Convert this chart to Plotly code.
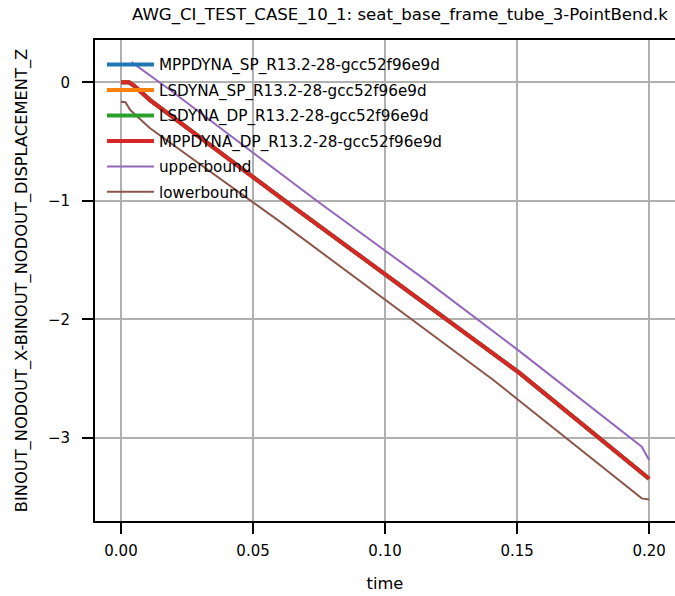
import plotly.graph_objects as go

title = "AWG_CI_TEST_CASE_10_1: seat_base_frame_tube_3-PointBend.k"
x_label = "time"
y_label = "BINOUT_NODOUT_X-BINOUT_NODOUT_DISPLACEMENT_Z"

sim_names = [
    "MPPDYNA_SP_R13.2-28-gcc52f96e9d",
    "LSDYNA_SP_R13.2-28-gcc52f96e9d",
    "LSDYNA_DP_R13.2-28-gcc52f96e9d",
    "MPPDYNA_DP_R13.2-28-gcc52f96e9d",
]
sim_colors = ["#1f77b4", "#ff7f0e", "#2ca02c", "#d62728"]

sim_t = [0.0, 0.003, 0.005, 0.011, 0.0621, 0.1227, 0.1511, 0.2]
sim_v = [0.0, 0.0, -0.03, -0.15, -1.0, -1.99, -2.456, -3.345]

upper_t = [0.004, 0.0186, 0.0741, 0.1152, 0.1511, 0.1972, 0.2]
upper_v = [0.17, -0.065, -1.0, -1.667, -2.273, -3.075, -3.187]

lower_t = [0.0, 0.0017, 0.0035, 0.011, 0.0602, 0.141, 0.1972, 0.2]
lower_v = [-0.164, -0.168, -0.234, -0.388, -1.176, -2.512, -3.511, -3.52]

x_ticks = [0.0, 0.05, 0.10, 0.15, 0.20]
y_ticks = [0, -1, -2, -3]

fig = go.Figure()
for i, (name, color) in enumerate(zip(sim_names, sim_colors)):
    fig.add_trace(go.Scatter(x=sim_t, y=sim_v, mode="lines", name=name,
                             line=dict(color=color, width=4), legendgroup=f"g{i}"))
fig.add_trace(go.Scatter(x=upper_t, y=upper_v, mode="lines", name="upperbound",
                         line=dict(color="#9467bd", width=2), legendgroup="g4"))
fig.add_trace(go.Scatter(x=lower_t, y=lower_v, mode="lines", name="lowerbound",
                         line=dict(color="#8c564b", width=2), legendgroup="g5"))

font = "DejaVu Sans"
fig.update_layout(
    width=675, height=596,
    margin=dict(l=95, r=0, t=40, b=75),
    plot_bgcolor="white", paper_bgcolor="white",
    font=dict(family=font, size=15, color="black"),
    title=dict(text=title, x=0.5926, xanchor="center", y=0.9765, yanchor="middle",
               automargin=False,
               font=dict(family=font, size=16.6, color="black")),
    showlegend=True,
    legend=dict(x=0.012, y=0.983, xanchor="left", yanchor="top",
                bgcolor="rgba(0,0,0,0)", borderwidth=0,
                font=dict(family=font, size=15.2, color="black"),
                tracegroupgap=2.7, traceorder="grouped", itemwidth=47),
    xaxis=dict(range=[-0.00985, 0.2098], tickvals=x_ticks, tickformat=".2f",
               automargin=False,
               showgrid=True, gridcolor="#b0b0b0", gridwidth=2, zeroline=False,
               showline=True, linecolor="black", linewidth=2, mirror=True,
               ticks="outside", ticklen=11, tickwidth=2, tickcolor="black",
               ticklabelstandoff=4,
               tickfont=dict(family=font, size=15),
               title=dict(text=x_label, font=dict(family=font, size=16.3), standoff=19)),
    yaxis=dict(range=[-3.702, 0.357], tickvals=y_ticks,
               automargin=False,
               showgrid=True, gridcolor="#b0b0b0", gridwidth=2, zeroline=False,
               showline=True, linecolor="black", linewidth=2,
               ticks="outside", ticklen=11, tickwidth=2, tickcolor="black",
               ticklabelstandoff=9,
               tickfont=dict(family=font, size=15),
               title=dict(text=y_label, font=dict(family=font, size=16.3), standoff=16)),
)

fig.write_html(
    "out.html",
    config={"displayModeBar": False},
    post_script="document.body.style.margin='0';document.body.style.overflow='hidden';",
)
